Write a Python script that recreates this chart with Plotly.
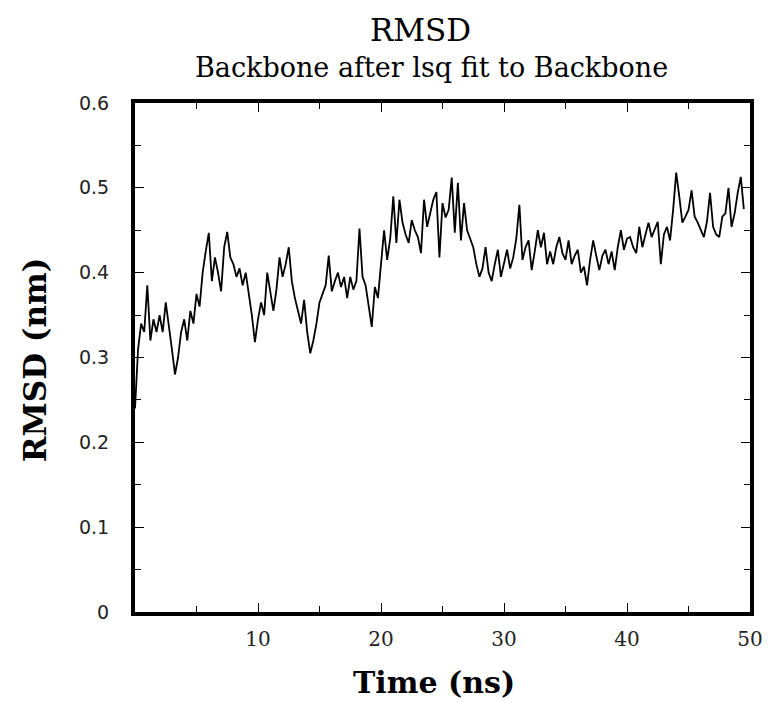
import plotly.graph_objects as go

time_ns = [i * 0.25 for i in range(199)]
rmsd_nm = [
    0.24, 0.31, 0.34, 0.33, 0.385, 0.32, 0.345, 0.33, 0.35, 0.33,
    0.365, 0.34, 0.31, 0.28, 0.30, 0.33, 0.345, 0.32, 0.355, 0.34,
    0.375, 0.36, 0.40, 0.425, 0.447, 0.39, 0.418, 0.40, 0.378, 0.43,
    0.448, 0.418, 0.41, 0.395, 0.405, 0.385, 0.40, 0.375, 0.35, 0.318,
    0.345, 0.365, 0.35, 0.40, 0.375, 0.355, 0.38, 0.418, 0.395, 0.41,
    0.43, 0.39, 0.37, 0.355, 0.34, 0.368, 0.33, 0.305, 0.32, 0.34,
    0.365, 0.375, 0.385, 0.42, 0.378, 0.39, 0.40, 0.383, 0.395, 0.37,
    0.395, 0.38, 0.39, 0.452, 0.395, 0.385, 0.36, 0.336, 0.383, 0.37,
    0.41, 0.45, 0.415, 0.44, 0.49, 0.435, 0.486, 0.459, 0.445, 0.435,
    0.462, 0.45, 0.442, 0.423, 0.486, 0.454, 0.47, 0.486, 0.495, 0.418,
    0.482, 0.465, 0.474, 0.512, 0.447, 0.506, 0.438, 0.482, 0.45, 0.44,
    0.43, 0.41, 0.395, 0.405, 0.43, 0.40, 0.39, 0.41, 0.427, 0.395,
    0.41, 0.427, 0.405, 0.418, 0.44, 0.48, 0.415, 0.43, 0.438, 0.403,
    0.425, 0.45, 0.43, 0.447, 0.41, 0.425, 0.41, 0.43, 0.442, 0.423,
    0.415, 0.438, 0.41, 0.42, 0.427, 0.40, 0.407, 0.385, 0.415, 0.438,
    0.42, 0.403, 0.42, 0.427, 0.41, 0.425, 0.403, 0.43, 0.45, 0.427,
    0.44, 0.442, 0.43, 0.423, 0.454, 0.43, 0.445, 0.459, 0.442, 0.45,
    0.46, 0.41, 0.445, 0.454, 0.438, 0.474, 0.518, 0.49, 0.459, 0.466,
    0.474, 0.497, 0.466, 0.459, 0.45, 0.442, 0.46, 0.494, 0.454, 0.445,
    0.442, 0.466, 0.47, 0.50, 0.454, 0.47, 0.494, 0.513, 0.475,
]

x_tick_vals = [10, 20, 30, 40, 50]
x_tick_text = ["10", "20", "30", "40", "50"]
y_tick_vals = [0, 0.1, 0.2, 0.3, 0.4, 0.5, 0.6]
y_tick_text = ["0", "0.1", "0.2", "0.3", "0.4", "0.5", "0.6"]

SERIF = "DejaVu Serif"

# page has an 8px body margin; plot frame target in page px: x 135-752, y 103-612
PL, PR, PT, PB = 135, 752, 103, 612
PW, PH = PR - PL, PB - PT


def px(x):
    return (x - PL) / PW


def py(y):
    return (PB - y) / PH


fig = go.Figure()
fig.add_trace(go.Scatter(
    x=time_ns, y=rmsd_nm, mode="lines",
    line=dict(color="black", width=1.8),
    showlegend=False,
))

fig.update_layout(
    width=767, height=694,
    margin=dict(l=PL - 8, r=767 + 8 - PR, t=PT - 8, b=694 + 8 - PB),
    paper_bgcolor="white", plot_bgcolor="white",
    font=dict(family=SERIF, color="black"),
)

fig.update_xaxes(
    range=[0, 50], tickmode="array", tickvals=x_tick_vals, ticktext=x_tick_text,
    ticks="inside", ticklen=9, tickwidth=1, tickcolor="black",
    minor=dict(dtick=5, ticks="inside", ticklen=6, tickcolor="black", tick0=0),
    showline=True, linewidth=4, linecolor="black", mirror="ticks",
    showgrid=False, zeroline=False,
    tickfont=dict(family=SERIF, size=20, color="#222"),
    ticklabelstandoff=6,
)
fig.update_yaxes(
    range=[0, 0.6], tickmode="array", tickvals=y_tick_vals, ticktext=y_tick_text,
    ticks="inside", ticklen=9, tickwidth=1, tickcolor="black",
    minor=dict(dtick=0.05, ticks="inside", ticklen=6, tickcolor="black", tick0=0),
    showline=True, linewidth=4, linecolor="black", mirror="ticks",
    showgrid=False, zeroline=False,
    tickfont=dict(family="DejaVu Sans", size=19, color="#222"),
    ticklabelstandoff=18,
)

fig.add_annotation(text="RMSD", xref="paper", yref="paper",
                   x=px(421), y=py(30),
                   showarrow=False, font=dict(family=SERIF, size=31, color="black"),
                   xanchor="center", yanchor="middle")
fig.add_annotation(text="Backbone after lsq fit to Backbone", xref="paper", yref="paper",
                   x=px(432), y=py(68),
                   showarrow=False, font=dict(family=SERIF, size=27, color="black"),
                   xanchor="center", yanchor="middle")
fig.add_annotation(text="<b>Time (ns)</b>", xref="paper", yref="paper",
                   x=px(435), y=py(682),
                   showarrow=False, font=dict(family=SERIF, size=30, color="black"),
                   xanchor="center", yanchor="middle")
fig.add_annotation(text="<b>RMSD (nm)</b>", xref="paper", yref="paper",
                   x=px(35), y=py(360),
                   showarrow=False, textangle=-90,
                   font=dict(family=SERIF, size=31, color="black"),
                   xanchor="center", yanchor="middle")

fig.write_html("out.html")
